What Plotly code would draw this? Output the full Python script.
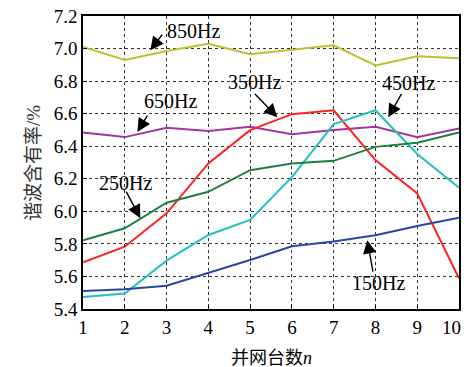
import plotly.graph_objects as go

n = [1, 2, 3, 4, 5, 6, 7, 8, 9, 10]
h850 = [7.01, 6.93, 6.985, 7.03, 6.965, 6.994, 7.02, 6.896, 6.953, 6.94]
h650 = [6.485, 6.456, 6.513, 6.494, 6.519, 6.474, 6.499, 6.519, 6.456, 6.509]
h350 = [5.687, 5.783, 5.988, 6.294, 6.499, 6.597, 6.621, 6.315, 6.11, 5.589]
h450 = [5.474, 5.495, 5.697, 5.855, 5.947, 6.21, 6.536, 6.621, 6.352, 6.145]
h250 = [5.822, 5.896, 6.053, 6.12, 6.253, 6.294, 6.31, 6.396, 6.421, 6.485]
h150 = [5.511, 5.521, 5.543, 5.62, 5.701, 5.785, 5.814, 5.853, 5.91, 5.961]

x_ticktext = ["1", "2", "3", "4", "5", "6", "7", "8", "9", "10"]
y_tickvals = [5.4, 5.6, 5.8, 6.0, 6.2, 6.4, 6.6, 6.8, 7.0, 7.2]
y_ticktext = ["5.4", "5.6", "5.8", "6.0", "6.2", "6.4", "6.6", "6.8", "7.0", "7.2"]

series = [
    ("850Hz", h850, "#bfbf30"),
    ("650Hz", h650, "#a035a0"),
    ("350Hz", h350, "#ff2020"),
    ("450Hz", h450, "#20c0c0"),
    ("250Hz", h250, "#1a8040"),
    ("150Hz", h150, "#2a45a5"),
]

# label text position, arrow tail, arrow head (data coords)
labels = [
    ("850Hz", (3.64, 7.106), (2.922, 7.094), (2.611, 6.990)),
    ("650Hz", (3.089, 6.677), (2.563, 6.597), (2.302, 6.488)),
    ("250Hz", (2.015, 6.173), (2.015, 6.130), (2.373, 5.958)),
    ("350Hz", (5.103, 6.792), (5.077, 6.731), (5.651, 6.578)),
    ("450Hz", (8.787, 6.787), (8.643, 6.731), (8.307, 6.578)),
    ("150Hz", (8.067, 5.560), (7.948, 5.621), (7.804, 5.823)),
]

fig = go.Figure()
for name, vals, col in series:
    fig.add_trace(go.Scatter(x=n, y=vals, mode="lines", name=name,
                             line=dict(color=col, width=2), showlegend=False))

serif = "Liberation Serif, Times New Roman, serif"
cjk = "Liberation Serif, Noto Sans CJK SC, serif"

annotations = []
for txt, (tx, ty), (ax, ay), (hx, hy) in labels:
    annotations.append(dict(x=tx, y=ty, xref="x", yref="y", text=txt, showarrow=False,
                            font=dict(family=serif, size=20, color="black")))
    annotations.append(dict(x=hx, y=hy, xref="x", yref="y", text="", showarrow=True,
                            ax=ax, ay=ay, axref="x", ayref="y",
                            arrowhead=2, arrowsize=1.9, arrowwidth=1.4, arrowcolor="black"))

# last x tick label, kept inside the page like the reference
annotations.append(dict(x=n[-1], y=0, xref="x", yref="paper", yanchor="top", xanchor="right",
                        xshift=4, yshift=-6, text=x_ticktext[-1], showarrow=False,
                        font=dict(family=serif, size=19, color="black")))

annotations.append(dict(x=0.5, y=-0.125, xref="paper", yref="paper", yanchor="top",
                        text="并网台数<i>n</i>", showarrow=False,
                        font=dict(family=cjk, size=18, color="black")))
annotations.append(dict(x=-0.165, y=0.5, xref="paper", yref="paper",
                        text="谐波含有率/%", textangle=-90, showarrow=False,
                        font=dict(family=cjk, size=19, color="#333333")))

fig.update_layout(
    width=464, height=367,
    margin=dict(l=83, r=5, t=16, b=58, autoexpand=False),
    plot_bgcolor="white", paper_bgcolor="white",
    annotations=annotations,
    font=dict(family=serif, size=19, color="black"),
)
fig.update_xaxes(range=[1, 10], tickvals=n, ticktext=x_ticktext[:-1] + [""],
                 showgrid=True, gridcolor="#333333", griddash="dot", gridwidth=1,
                 showline=True, linecolor="black", linewidth=1.5, mirror=True,
                 ticks="inside", ticklen=4, tickcolor="black",
                 tickfont=dict(family=serif, size=19), zeroline=False, automargin=False)
fig.update_yaxes(range=[5.4, 7.2], tickvals=y_tickvals, ticktext=y_ticktext,
                 showgrid=True, gridcolor="#333333", griddash="dot", gridwidth=1,
                 showline=True, linecolor="black", linewidth=1.5, mirror=True,
                 ticks="inside", ticklen=4, tickcolor="black",
                 tickfont=dict(family=serif, size=19), zeroline=False, automargin=False)

fig.write_html("out.html", config={"displayModeBar": False},
               post_script="document.body.style.margin='0';document.body.style.padding='0';")
